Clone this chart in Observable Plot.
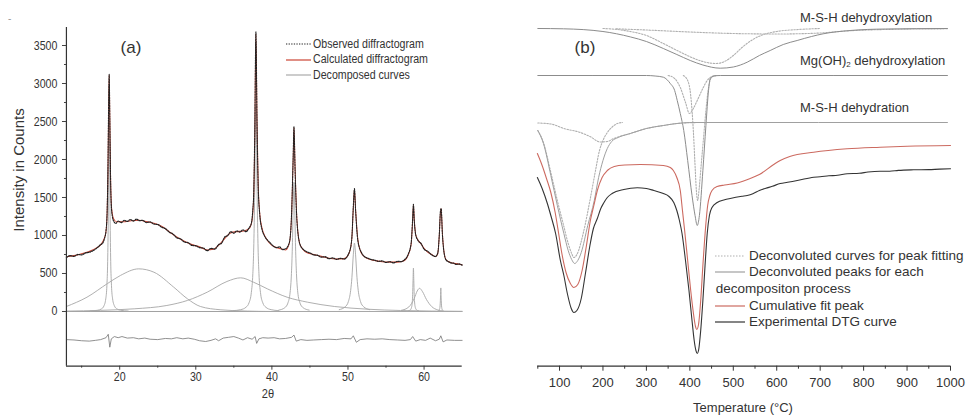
<!DOCTYPE html>
<html><head><meta charset="utf-8">
<script src="https://cdn.jsdelivr.net/npm/d3@7"></script>
<script src="https://cdn.jsdelivr.net/npm/@observablehq/plot@0.6"></script>
<style>
body{margin:0;background:#fff;}
#wrap{position:relative;width:966px;height:415px;overflow:hidden;font-family:"Liberation Sans",Arial,sans-serif;color:#333}
#row{display:flex}
#row svg{display:block}
#panelA{flex:0 0 480px;width:480px;height:415px;overflow:visible}
#panelB{flex:0 0 486px;width:486px;height:415px}
.lbl{position:absolute;white-space:nowrap;line-height:1}
</style></head><body>
<div id="wrap"><div id="row"><div id="panelA"></div><div id="panelB"></div></div></div>
<script>
// ---------- Panel (a): XRD ----------
const xTicksA = [20, 30, 40, 50, 60];
const xMinorA = [15, 25, 35, 45, 55];
const yTicksA = [0, 500, 1000, 1500, 2000, 2500, 3000, 3500];
const yMinorA = [250, 750, 1250, 1750, 2250, 2750, 3250];
const xDomainA = [13, 65];
const yDomainA = [-720, 3737];

const calculated = [[13,720],[14,735],[15,760],[16,790],[17,840],[17.6,890],[18.0,970],[18.2,1050],[18.35,1300],[18.45,1800],[18.55,2700],[18.62,3110],[18.7,2600],[18.8,1800],[18.95,1350],[19.2,1220],[19.6,1180],[20.5,1180],[21.5,1195],[22.5,1200],[23.5,1185],[24.5,1160],[25.5,1120],[26.5,1050],[27.5,980],[28.5,925],[29.5,880],[30.5,850],[31.5,810],[32.3,820],[33,870],[33.8,960],[34.5,1030],[35.3,1050],[36.3,1060],[37,1090],[37.4,1200],[37.6,1500],[37.75,2300],[37.9,3650],[38.05,2500],[38.2,1700],[38.4,1300],[38.7,1100],[39.2,970],[40,870],[41,830],[41.8,810],[42.3,900],[42.6,1300],[42.8,2000],[42.9,2420],[43.05,1900],[43.3,1200],[43.7,880],[44.5,780],[45.5,750],[46.5,725],[47.5,700],[48.5,690],[49.5,695],[50.2,780],[50.5,950],[50.7,1350],[50.85,1610],[51.0,1350],[51.3,950],[51.8,760],[52.5,700],[53.5,670],[54.5,655],[55.5,650],[56.5,650],[57.3,665],[57.9,740],[58.3,880],[58.5,1200],[58.6,1400],[58.72,1200],[58.9,1010],[59.2,940],[59.6,890],[60,830],[60.5,780],[61,750],[61.5,720],[61.8,760],[62.0,1000],[62.15,1300],[62.25,1350],[62.4,1050],[62.6,800],[62.9,680],[63.5,645],[64.2,630],[65,615]];

const observed = [[13,710],[13.5,735],[14,725],[14.5,750],[15,745],[15.5,770],[16,780],[16.5,800],[17,835],[17.5,880],[17.8,905],[18.0,960],[18.2,1060],[18.35,1320],[18.45,1850],[18.55,2750],[18.62,3120],[18.7,2550],[18.8,1750],[18.95,1320],[19.2,1190],[19.5,1160],[19.8,1190],[20.2,1170],[20.6,1200],[21,1185],[21.4,1210],[21.8,1190],[22.2,1215],[22.6,1195],[23,1200],[23.5,1170],[24,1180],[24.5,1150],[25,1145],[25.5,1110],[26,1090],[26.5,1045],[27,1020],[27.5,970],[28,955],[28.5,915],[29,905],[29.5,870],[30,865],[30.5,840],[31,835],[31.5,800],[32,830],[32.5,820],[33,880],[33.4,900],[33.8,980],[34.2,1000],[34.6,1050],[35,1030],[35.4,1060],[35.8,1045],[36.2,1075],[36.6,1050],[37,1100],[37.3,1160],[37.5,1350],[37.6,1520],[37.75,2350],[37.9,3680],[38.05,2450],[38.2,1650],[38.4,1280],[38.7,1080],[39,1000],[39.4,940],[39.8,900],[40.2,860],[40.6,840],[41,850],[41.4,815],[41.8,825],[42.3,910],[42.6,1320],[42.8,2050],[42.9,2430],[43.05,1850],[43.3,1180],[43.7,880],[44.1,820],[44.5,790],[45,770],[45.5,745],[46,740],[46.5,715],[47,720],[47.5,695],[48,705],[48.5,685],[49,700],[49.5,690],[50.2,790],[50.5,960],[50.7,1380],[50.85,1615],[51.0,1330],[51.3,930],[51.8,770],[52.2,720],[52.5,705],[53,685],[53.5,675],[54,660],[54.5,665],[55,645],[55.5,655],[56,640],[56.5,660],[57,655],[57.3,670],[57.9,750],[58.3,900],[58.5,1220],[58.6,1410],[58.72,1180],[58.9,1010],[59.2,935],[59.6,895],[60,820],[60.5,790],[61,745],[61.5,725],[61.8,770],[62.0,1010],[62.15,1320],[62.25,1355],[62.4,1030],[62.6,790],[62.9,675],[63.2,655],[63.5,640],[63.9,635],[64.2,620],[64.6,625],[65,610]];

const hump22 = [[13,66],[15.7,188],[18.4,368],[20.1,474],[22.5,561],[24.5,517],[27.1,320],[28.9,167],[30.6,66],[33.3,22],[36.8,5],[40,0],[65,0]];
const hump36 = [[13,5],[17.5,15],[21.9,35],[26.2,79],[28.9,145],[31.5,254],[34.1,395],[35.9,443],[37.6,385],[39.4,298],[42,188],[44.7,122],[48.2,66],[52.6,30],[56.9,13],[65,2]];
const peak186 = [[16.12,6],[17.12,16],[17.62,35],[17.92,71],[18.17,166],[18.32,345],[18.42,660],[18.5,1250],[18.56,2000],[18.62,2500],[18.68,2000],[18.74,1250],[18.82,660],[18.92,345],[19.07,166],[19.32,71],[19.62,35],[20.12,16],[21.12,6]];
const peak379 = [[34.9,11],[35.9,24],[36.6,56],[37.0,115],[37.3,250],[37.5,500],[37.6,780],[37.71,1350],[37.8,2100],[37.9,2700],[38.0,2100],[38.09,1350],[38.2,780],[38.3,500],[38.5,250],[38.8,115],[39.2,56],[39.9,24],[40.9,11]];
const peak429 = [[40.9,18],[41.7,50],[42.1,110],[42.4,255],[42.57,500],[42.69,850],[42.8,1390],[42.9,1700],[43.0,1390],[43.11,850],[43.23,500],[43.4,255],[43.7,110],[44.1,50],[44.9,18]];
const peak508 = [[48.85,24],[49.65,63],[50.05,130],[50.35,275],[50.52,450],[50.7,745],[50.85,900],[51.0,745],[51.18,450],[51.35,275],[51.65,130],[52.05,63],[52.85,24]];
const peak586 = [[57.9,7],[58.2,22],[58.35,53],[58.45,125],[58.5,225],[58.55,410],[58.6,570],[58.65,410],[58.7,225],[58.75,125],[58.85,53],[59.0,22],[59.3,7]];
const hump594 = [[57,15],[58,60],[58.7,170],[59.1,270],[59.4,305],[59.8,260],[60.3,160],[61,65],[61.8,20],[62.5,5]];
const peak622 = [[61.9,10],[62.05,35],[62.12,100],[62.16,190],[62.2,310],[62.24,190],[62.28,100],[62.35,35],[62.5,10]];
const decomposed = [hump22, hump36, peak186, peak379, peak429, peak508, peak586, hump594, peak622];

const residual = [[13,-370],[14,-375],[15,-385],[16,-390],[16.8,-380],[17.5,-370],[18.2,-345],[18.5,-300],[18.7,-470],[18.9,-360],[19.3,-330],[19.8,-345],[20.3,-330],[21,-350],[21.8,-345],[22.5,-360],[23.3,-350],[24,-365],[25,-370],[26,-355],[26.8,-360],[27.5,-345],[28.3,-360],[29,-350],[29.8,-365],[30.5,-385],[31.3,-395],[32,-380],[32.6,-360],[33,-385],[33.6,-350],[34.3,-340],[35,-330],[35.6,-350],[36.2,-375],[36.8,-345],[37.4,-365],[37.8,-330],[38,-420],[38.3,-360],[38.8,-345],[39.5,-350],[40.3,-345],[41,-360],[41.8,-355],[42.6,-340],[42.9,-310],[43.2,-390],[43.8,-370],[44.6,-380],[45.5,-375],[46.5,-370],[47.5,-365],[48.5,-370],[49.5,-355],[50.4,-360],[50.7,-320],[51.1,-405],[51.6,-370],[52.5,-360],[53.5,-365],[54.5,-360],[55.5,-370],[56.5,-375],[57.5,-380],[58.2,-370],[58.5,-330],[58.9,-390],[59.5,-370],[60.2,-380],[60.8,-350],[61.5,-385],[62,-365],[62.2,-320],[62.5,-400],[63,-375],[64,-380],[65,-380]];

// ---------- Panel (b): DTG ----------
const xTicksB = [100, 200, 300, 400, 500, 600, 700, 800, 900, 1000];
const xMinorB = [50, 150, 250, 350, 450, 550, 650, 750, 850, 950];
const xDomainB = [50, 1000];
const yDomainB = [-337.7, 20];
// vertical stacking offsets (a.u.) for: dehydroxylation, Mg(OH)2, dehydration, cumulative fit, experimental
const stackOffsets = [0, 47, 94, 117, 140.3];

// depths below each baseline (a.u.)
const dehydroxT = [50,109,200,263,300,339,370,401,430,470,500,532,560,585,615,647,680,707,769,850,993];
const dehydroxD = [0,0.3,3,8.4,13,20,26,32,36.5,39.7,38.5,33.7,27,22,16,12,8,5.3,2,0.5,0];
const dehydroxA_T = [200,233,263,300,339,380,410,430,460,480,500,520,545,570,600,650,700];
const dehydroxA_D = [0,1,3,7,15,24,30,33,35,33,27,19,11,6,3,1,0];
const dehydroxB_T = [230,300,400,500,600,700,760,850,993];
const dehydroxB_D = [0.3,1.5,3.5,5,5.5,4.5,2.5,1,0.3];

const mgT = [50,300,320,339,355,365,371,378,386,395,405,412,417,422,430,437,443,447,455,470,993];
const mgD = [0,0,0.5,1.7,8,15,25,38,55,85,120,140,150,140,95,50,15,3,0.5,0,0];
const mgC_T = [350,365,378,390,399,408,417,431,440,447,460];
const mgC_D = [0,3,12,27,38,33,25,12,5,2,0];
const mgD_T = [385,395,402,408,412,415,418,421,426,432,437,443,450,460];
const mgD_D = [0,5,20,55,90,115,125,115,90,60,35,12,2,0];

const dehydT = [50,63,80,95,110,120,128,135,142,150,165,180,190,200,210,220,235,263,300,339,370,400,993];
const dehydD = [8,21,53,83,111,128,137,141,138,130,103,78,55,38,26,19,15,11,6,3,1,0,0];
const dehydF_T = [50,63,80,95,110,120,128,133,140,155,170,182,192,200,210,220,233,245];
const dehydF_D = [8,20,50,78,104,121,131,135,132,110,78,50,28,18,10,5,1,0];
const dehydE_T = [50,80,110,148,170,194,210,225,263,300,339,370,420];
const dehydE_D = [0.5,1.5,6,10,14,19.5,19,16,11,6,3,1,0];

const fitT = [49,60,70,80,90,98,105,115,125,133,142,152,162,171,179,187,198,210,226,250,286,339,355,362,370,378,383,388,395,402,408,413,416,420,425,430,436,441,446,451,463,480,509,539,560,593,608,630,685,762,838,900,1000];
const fitD = [8,20,33,47,67,88,107,127,138,142,139,125,100,75,60,45,32,25,21,19.5,19,20,22,25,32,45,65,85,115,145,167,181,184,179,155,120,83,60,50,45,41,39.5,37.5,33,29,19,15,11,6.7,3.3,1.7,0.7,0];

const expT = [49,60,72,80,91,102,110,118,127,133,140,150,160,170,178,187,195,201,210,221,248,279,300,317,339,352,363,370,376,382,390,398,405,410,414,417,420,425,430,435,440,445,451,463,480,493,520,532,545,560,575,590,608,625,650,685,700,720,740,762,790,810,838,860,880,915,950,975,1000];
const expD = [8.7,19.7,34.7,46.7,64.7,91.7,106.7,124.7,139.7,143.7,141.7,129.7,103.7,76.7,59.7,49.7,39.7,34.7,28.7,24.7,20.7,19,19.7,21.7,24.7,27.7,33.7,41.7,51.7,64.7,91.7,121.7,151.7,171.7,181.7,184.7,181.7,161.7,131.7,96.7,64.7,46.7,38.7,33.7,31,29.7,27.5,26.7,25,21.7,19.5,17.5,14.7,13.5,11.5,8.4,8,7,6.5,5,4.5,3.2,2.4,2.5,1.6,1,0.8,0.3,0];

// ---------- helpers ----------
const fx = d => d[0], fy = d => d[1];
const stacked = (Ts, Ds, k) => Ts.map((t, i) => [t, -(stackOffsets[k] + Ds[i])]);
const regularFont = '"Liberation Sans",Arial,sans-serif';
const sq = 0.85; // panel (a) is horizontally condensed in the original figure
const plain = d => String(d);
const wA = 480 / sq;

const plotA = Plot.plot({
  width: wA, height: 415,
  marginLeft: 66 / sq, marginRight: 18.3 / sq, marginTop: 27, marginBottom: 49.3,
  x: {domain: xDomainA}, y: {domain: yDomainA},
  style: {fontFamily: regularFont, fontSize: "12.5px", color: "#333", background: "transparent"},
  marks: [
    Plot.ruleY([0], {stroke: "#999", strokeWidth: 1}),
    ...decomposed.map(c => Plot.line(c, {x: fx, y: fy, stroke: "#a8a8a8", strokeWidth: 1, curve: "monotone-x"})),
    Plot.line(residual, {x: fx, y: fy, stroke: "#7a7a7a", strokeWidth: 0.9}),
    Plot.line(calculated, {x: fx, y: fy, stroke: "#cc4433", strokeWidth: 1.1, curve: "monotone-x"}),
    Plot.line(observed, {x: fx, y: fy, stroke: "#222", strokeWidth: 1.3, strokeDasharray: "1.3,1.3", curve: "monotone-x"}),
    Plot.ruleX([xDomainA[0]], {stroke: "#333", strokeWidth: 1.4}),
    Plot.ruleY([yDomainA[0]], {stroke: "#333", strokeWidth: 1.2}),
    Plot.axisX({ticks: xTicksA, tickSize: 4, tickPadding: 2.4, label: null, fontSize: 12.5, tickFormat: plain}),
    Plot.axisX({ticks: xMinorA, tickSize: 2, tickFormat: () => "", label: null}),
    Plot.axisY({ticks: yTicksA, tickSize: 4 / sq, tickPadding: 5 / sq, label: null, fontSize: 12.5, tickFormat: plain}),
    Plot.axisY({ticks: yMinorA, tickSize: 2 / sq, tickFormat: () => "", label: null})
  ]
});
plotA.style.maxWidth = "none";
plotA.style.width = wA + "px";
plotA.style.height = "415px";
plotA.style.transform = `scaleX(${sq})`;
plotA.style.transformOrigin = "0 0";

const solidGrey = {stroke: "#8c8c8c", strokeWidth: 1, curve: "monotone-x"};
const dotGrey = {stroke: "#b0b0b0", strokeWidth: 1.1, strokeDasharray: "1.5,1.5", curve: "monotone-x"};
const plotB = Plot.plot({
  width: 486, height: 415,
  marginLeft: 57.3, marginRight: 16, marginTop: 8, marginBottom: 49.3,
  x: {domain: xDomainB}, y: {domain: yDomainB, axis: null},
  style: {fontFamily: regularFont, fontSize: "13px", color: "#333", background: "transparent"},
  marks: [
    Plot.line(stacked(dehydroxB_T, dehydroxB_D, 0), {x: fx, y: fy, ...dotGrey}),
    Plot.line(stacked(dehydroxA_T, dehydroxA_D, 0), {x: fx, y: fy, ...dotGrey}),
    Plot.line(stacked(dehydroxT, dehydroxD, 0), {x: fx, y: fy, ...solidGrey}),
    Plot.line(stacked(mgC_T, mgC_D, 1), {x: fx, y: fy, ...dotGrey}),
    Plot.line(stacked(mgD_T, mgD_D, 1), {x: fx, y: fy, ...dotGrey}),
    Plot.line(stacked(mgT, mgD, 1), {x: fx, y: fy, ...solidGrey}),
    Plot.line(stacked(dehydE_T, dehydE_D, 2), {x: fx, y: fy, ...dotGrey}),
    Plot.line(stacked(dehydF_T, dehydF_D, 2), {x: fx, y: fy, ...dotGrey}),
    Plot.line(stacked(dehydT, dehydD, 2), {x: fx, y: fy, ...solidGrey, stroke: "#a0a0a0"}),
    Plot.line(stacked(fitT, fitD, 3), {x: fx, y: fy, stroke: "#cc6a60", strokeWidth: 1.1, curve: "monotone-x"}),
    Plot.line(stacked(expT, expD, 4), {x: fx, y: fy, stroke: "#333", strokeWidth: 1.1, curve: "monotone-x"}),
    Plot.ruleY([yDomainB[0]], {stroke: "#333", strokeWidth: 1.2}),
    Plot.axisX({ticks: xTicksB, tickSize: 5, tickPadding: 6.4, label: null, fontSize: 13, tickFormat: plain}),
    Plot.axisX({ticks: xMinorB, tickSize: 3, tickFormat: () => "", label: null})
  ]
});

document.getElementById("panelA").appendChild(plotA);
document.getElementById("panelB").appendChild(plotB);

// ---------- annotations & legends ----------
const wrap = document.getElementById("wrap");
function addLabel(html, x, y, size, extra = "") {
  const d = document.createElement("div");
  d.className = "lbl";
  d.style.cssText = `left:${x}px;top:${y}px;font-size:${size}px;${extra}`;
  d.innerHTML = html;
  wrap.appendChild(d);
  return d;
}
function swatch(x, y, w, stroke, dash) {
  const ns = "http://www.w3.org/2000/svg";
  const s = document.createElementNS(ns, "svg");
  s.setAttribute("width", w); s.setAttribute("height", 4);
  s.style.cssText = `position:absolute;left:${x}px;top:${y - 2}px`;
  const l = document.createElementNS(ns, "line");
  l.setAttribute("x1", 0); l.setAttribute("x2", w); l.setAttribute("y1", 2); l.setAttribute("y2", 2);
  l.setAttribute("stroke", stroke); l.setAttribute("stroke-width", 1.2);
  if (dash) l.setAttribute("stroke-dasharray", dash);
  s.appendChild(l); wrap.appendChild(s);
}
const squeezeLeft = `transform:scaleX(${sq});transform-origin:0 50%`;
const center = "transform:translate(-50%,-50%)";

const legendA = [
  {label: "Observed diffractogram", stroke: "#222", dash: "1.3,1.3", y: 44},
  {label: "Calculated diffractogram", stroke: "#cc4433", dash: null, y: 59.5},
  {label: "Decomposed curves", stroke: "#aaa", dash: null, y: 75}
];
legendA.forEach(r => {
  swatch(286, r.y, 25, r.stroke, r.dash);
  addLabel(r.label, 313, r.y - 6.5, 12.5, squeezeLeft);
});
addLabel("(a)", 131, 47, 17, center);
addLabel("2θ", 268, 393, 13, `transform:translate(-50%,-50%) scaleX(${sq})`);
addLabel("Intensity in Counts", 18, 170, 15, "transform:translate(-50%,-50%) rotate(-90deg)");
addLabel("-", 8, 14, 10, "color:#999");

addLabel("(b)", 585, 47, 17, center);
addLabel("M-S-H dehydroxylation", 800, 10.5, 13);
addLabel("Mg(OH)<sub style=\"font-size:8px;vertical-align:-2px\">2</sub> dehydroxylation", 800, 54, 13);
addLabel("M-S-H dehydration", 800, 101, 13);
addLabel("Temperature (°C)", 743, 407, 13, center);

const legendB = [
  {label: "Deconvoluted curves for peak fitting", stroke: "#b0b0b0", dash: "1.5,1.5", y: 255.7},
  {label: "Deconvoluted peaks for each", stroke: "#a0a0a0", dash: null, y: 272.3},
  {label: "Cumulative fit peak", stroke: "#cc6a60", dash: null, y: 305.7},
  {label: "Experimental DTG curve", stroke: "#333", dash: null, y: 322.3}
];
legendB.forEach(r => {
  swatch(715, r.y, 30, r.stroke, r.dash);
  addLabel(r.label, 749, r.y - 7, 13.5);
});
addLabel("decompositon process", 715.7, 288.7 - 7, 13.5);
</script>
</body></html>
